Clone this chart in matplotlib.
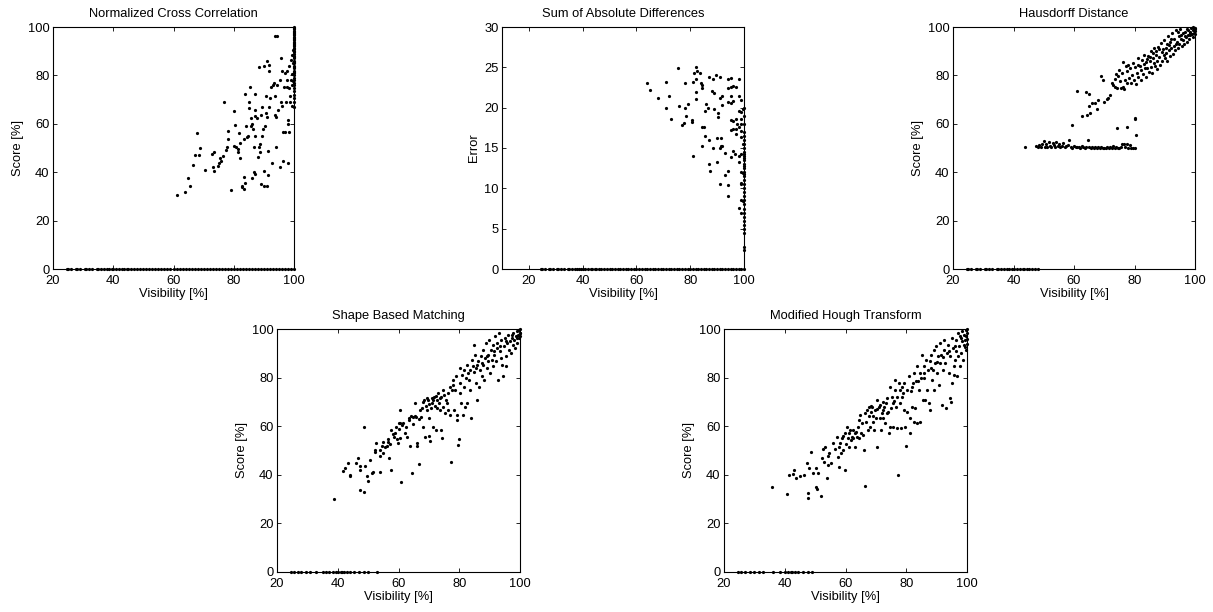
import matplotlib
matplotlib.use("Agg")
import matplotlib.pyplot as plt

plt.rcParams['font.family'] = ['Liberation Sans', 'DejaVu Sans']

# ---------------- data (visibility [%], score/error) ----------------
titles = ["Normalized Cross Correlation", "Sum of Absolute Differences",
          "Hausdorff Distance", "Shape Based Matching", "Modified Hough Transform"]
ylabels = ["Score [%]", "Error", "Score [%]", "Score [%]", "Score [%]"]
xlabel = "Visibility [%]"

zero_vis_all = [24.5, 25, 26, 27.5, 28, 29, 30.5, 31, 32, 33, 34.5, 35, 36, 37, 38, 38.5,
                39.5, 40, 41, 42, 43, 43.5, 44.5, 45, 46, 47, 48, 49, 50, 51, 52, 53,
                54, 55, 56, 57, 58, 59, 60, 61, 62, 63, 64, 65, 66, 67, 68, 69, 70, 71,
                72, 73, 74, 75, 76, 77, 78, 79, 80, 81, 82, 83, 84, 85, 86, 87, 88, 89,
                90, 91, 92, 93, 94, 95, 96, 97, 98, 99, 100]
zero_vis_hd = [24.5, 25, 26, 27.5, 28, 29, 30.5, 31, 32, 33, 34.5, 35, 36, 37, 38, 38.5,
               39.5, 40, 41, 42, 43, 43.5, 44.5, 45, 46, 47, 48]
zero_vis_sbm = [24.5, 25.5, 27, 28, 29.5, 31, 33, 35, 36, 37, 38.5, 39.5, 40, 41, 41.5,
                42, 43, 44, 45.5, 47, 48.5, 50, 53]
zero_vis_mht = [24.5, 25.5, 27, 28.5, 30, 31.5, 33, 36, 38.5, 40, 41, 42, 42.5, 43.5,
                44.5, 46, 47.5, 49]

ncc_points = [(61.3, 30.6), (63.9, 31.7), (64.8, 37.5), (65.6, 34.1), (66.4, 42.9),
              (67.0, 47.3), (67.9, 56.1), (68.6, 47.0), (68.7, 49.9), (70.6, 41.1),
              (72.8, 47.7), (73.3, 48.3), (73.0, 42.1), (73.6, 40.7), (74.7, 42.6),
              (75.0, 44.0), (75.3, 45.8), (75.8, 44.6), (76.4, 46.9), (76.7, 69.0),
              (77.3, 49.2), (77.8, 50.6), (78.1, 53.9), (78.0, 57.0), (79.1, 32.7),
              (80.0, 51.0), (80.2, 65.1), (80.3, 59.6), (80.7, 50.3), (81.3, 49.4),
              (81.3, 48.3), (81.6, 56.1), (82.2, 45.8), (82.2, 52.0), (82.6, 34.5),
              (82.9, 33.7), (83.3, 33.2), (83.3, 53.9), (83.3, 37.9), (83.8, 35.6),
              (84.0, 59.2), (83.9, 72.3), (84.4, 54.5), (84.7, 54.8), (85.0, 69.0),
              (85.2, 66.6), (85.3, 75.2), (85.6, 58.9), (85.8, 62.6), (86.1, 59.9),
              (86.3, 57.8), (86.2, 37.5), (86.7, 40.0), (86.7, 50.6), (86.9, 72.3),
              (87.0, 54.8), (87.2, 63.4), (87.2, 39.3), (87.2, 65.8), (87.7, 62.2),
              (88.1, 46.2), (88.3, 50.6), (88.6, 48.4), (88.3, 83.3), (88.8, 51.7),
              (89.0, 35.3), (89.2, 63.7), (89.4, 66.9), (89.4, 55.0), (89.7, 57.8),
              (89.9, 34.1), (90.0, 84.0), (90.2, 40.3), (90.3, 58.9), (90.6, 71.4),
              (90.7, 64.4), (90.9, 86.1), (91.1, 63.0), (91.1, 34.1), (91.3, 48.6),
              (91.4, 38.9), (91.7, 84.1), (91.7, 81.7), (91.8, 66.9), (92.0, 70.6),
              (92.2, 75.4), (92.8, 44.0), (93.1, 76.1), (93.3, 76.8), (93.6, 71.4),
              (93.7, 63.7), (93.9, 50.3), (94.0, 63.0), (93.7, 96.4), (94.2, 96.4),
              (94.4, 76.1), (94.8, 65.8), (95.3, 42.3), (95.3, 78.2), (95.6, 69.2),
              (95.8, 87.0), (95.9, 81.7), (96.1, 67.2), (96.3, 44.6), (96.4, 56.8),
              (96.7, 75.4), (96.9, 81.0), (97.0, 56.8), (97.2, 69.1), (97.6, 78.2),
              (97.7, 75.2), (97.8, 81.7), (97.9, 43.7), (98.0, 61.4), (98.0, 60.0),
              (98.2, 74.8), (98.3, 56.7), (98.4, 83.7), (98.7, 71.4), (98.8, 69.2),
              (98.9, 86.5), (99.1, 78.2), (99.2, 76.1), (99.3, 67.4), (99.4, 88.6),
              (99.5, 80.5), (99.6, 85.0), (99.7, 90.5), (99.6, 77.5)]
ncc_full_vis = [67, 69, 70.5, 72, 73.5, 75, 76, 77, 78, 79, 80, 81, 82, 83, 84, 85, 86,
                87, 88, 89, 90, 91, 92, 93, 94, 95, 96, 97, 98, 99, 100, 99.5, 98.5,
                97.5, 96.5, 95.5, 94.5, 93.5, 92.5, 91.5, 89.5, 87.5, 85.5, 83.5, 81.5]

sad_points = [(64, 23), (65, 22.2), (68, 21.2), (71, 23.2), (72, 21.4), (71, 20),
              (73, 18.6), (75.5, 24.9), (76, 20.2), (77, 17.8), (78, 23), (78, 20),
              (77.5, 18.1), (78.5, 19), (79, 20.5), (80.5, 18.5), (80.7, 18.2),
              (81, 23.2), (81, 14), (81.5, 24.3), (82, 25), (82, 23.5), (82.3, 22),
              (82, 21.1), (82.5, 24.6), (83.5, 24.3), (84, 23), (84.2, 22.8),
              (84.5, 22.4), (84.5, 17.6), (84.5, 15.2), (85, 17.6), (85.5, 16.5),
              (85.5, 19.6), (86, 20.4), (86.5, 20), (87, 23.8), (87, 16), (87, 13),
              (87.5, 12.2), (88, 22.1), (88.5, 23.6), (88.5, 15), (89, 19.8),
              (89, 21.8), (89.5, 24.1), (90, 13.3), (90, 16.3), (90.5, 19.3),
              (90.5, 18.8), (91, 21.2), (91, 23.8), (91, 15), (91, 10.5), (91.5, 15.2),
              (91.5, 16.2), (92, 20.3), (92, 21.5), (92, 15.3), (93, 11.6), (93, 14.4),
              (94, 23.5), (94, 22.5), (94, 20.7), (94, 12.1), (94, 10.4), (94, 9.1),
              (95, 23.7), (95, 22.6), (95, 21.5), (95, 20.6), (95, 18.5), (95, 17.2),
              (95, 13.9), (96, 22.7), (96, 20.8), (96, 18.4), (96, 17.3), (96, 14.6),
              (96.5, 14.3), (97, 22.6), (97, 18.6), (97, 17.4), (97, 16.7), (97.5, 18),
              (98, 23.6), (98, 21.4), (98, 19.6), (98, 17.6), (98, 14), (98, 13.3),
              (98, 7.6), (99, 21), (99, 18.6), (99, 18), (99, 17.1), (99, 16.4),
              (99, 19.5), (99, 14.2), (99, 12), (99, 10.5), (99, 8.5), (99, 6.9),
              (99, 10.6), (99.5, 19.8), (99.5, 15.5), (99.5, 11.9), (99.5, 8.4)]
sad_full_err = [2.4, 2.7, 4.5, 5, 5.5, 6, 6.5, 7, 7.5, 8, 8.5, 9, 9.5, 10, 10.5, 11,
                11.5, 12, 12.5, 13, 13.5, 14, 14.5, 15, 15.5, 16, 16.5, 17, 18, 19, 20,
                11.8, 12.8, 13.8, 14.3]

hd_points = [(43.7, 50.3), (47.5, 50.8), (48, 50.5), (48.5, 51.2), (49, 50.3), (49.5, 51.5),
             (50, 53), (50.3, 50.6), (50.8, 51.8), (51.2, 50.4), (51.6, 52.3), (52, 51),
             (52.5, 50.5), (53, 52), (53.3, 51.3), (53.8, 50.4), (54.2, 52.6), (54.6, 50.8),
             (55, 51.5), (55.5, 50.3), (56, 50.9), (56.5, 52), (57, 50.4), (57.5, 50.7),
             (58, 51.3), (58.5, 53.5), (59, 50.5), (59.5, 50.2), (60, 51), (60.5, 50.4),
             (61, 50.6), (61.5, 50.3), (62, 50.2), (62.5, 50.8), (63, 50.4), (63.5, 50.2),
             (64, 50.5), (64.6, 53.2), (65, 50.3), (65.5, 50.1), (66, 50.4), (66.5, 50.2),
             (67, 50.3), (67.5, 50.1), (68, 50.4), (68.5, 50.2), (69, 50.3), (69.5, 50.1),
             (70, 50.2), (70.5, 50), (71, 50.3), (71.5, 50.1), (72, 50.4), (72.5, 50.2),
             (73, 50.8), (73.5, 50.1), (74, 50.3), (74.5, 50.2), (75, 50), (75.5, 50.3),
             (76, 51.8), (76.5, 51.5), (77, 50.4), (77.5, 51.7), (78, 50.2), (78.5, 51.3),
             (79, 50.1), (79.5, 49.9), (80, 50),
             (59.5, 59.6), (74.3, 58.2), (77.4, 58.6), (80.2, 62.4), (80.0, 62.0), (80.5, 55.4),
             (60.9, 73.4), (63.9, 73.0), (65.1, 72.4), (62.8, 63.3), (64.2, 63.7), (65.0, 67.4),
             (65.3, 64.4), (66.1, 68.6), (67.5, 66.1), (67.0, 68.6), (68.0, 70.0), (68.8, 79.9),
             (69.5, 78.2), (70.0, 69.2), (70.8, 70.3), (71.4, 70.6), (71.9, 72.0), (72.5, 76.8),
             (73.0, 76.1), (73.4, 78.6), (73.6, 75.2), (73.9, 80.7), (74.3, 74.8), (74.7, 79.6),
             (75.0, 82.3), (75.2, 77.7), (75.5, 74.8), (75.8, 81.0), (76.1, 85.5), (76.3, 75.4),
             (76.5, 74.3), (76.9, 78.2), (77.2, 83.7), (77.4, 76.8), (77.6, 81.7), (78.0, 84.4),
             (78.3, 78.9),
             (78.6, 82.9), (78.9, 76.8), (79.1, 80.2), (79.6, 85.1), (79.9, 78.0), (80.3, 83.4),
             (80.5, 76.4), (80.8, 81.1), (81.2, 87.0), (81.3, 79.5), (81.8, 84.0), (82.0, 77.9),
             (82.3, 82.2), (82.6, 86.5), (82.9, 80.7), (83.1, 88.6), (83.4, 82.9), (83.7, 79.2),
             (83.9, 85.7), (84.2, 83.1), (84.4, 88.2), (84.7, 81.4), (85.0, 86.0), (85.3, 90.1),
             (85.5, 83.6), (85.8, 80.9), (86.1, 87.3), (86.4, 85.0), (86.6, 91.4), (86.9, 83.8),
             (87.1, 88.5), (87.4, 86.1), (87.6, 82.7), (87.9, 91.9), (88.2, 87.4), (88.4, 84.3),
             (88.7, 93.3), (89.0, 89.5), (89.2, 86.0), (89.5, 91.0), (89.8, 94.8), (90.1, 87.1),
             (90.3, 89.3), (90.6, 93.0), (90.9, 85.8), (91.1, 96.4), (91.4, 90.6), (91.7, 88.2),
             (91.9, 93.7), (92.2, 91.5), (92.5, 97.4), (92.7, 89.0), (93.0, 95.2), (93.2, 92.1),
             (93.5, 90.4), (93.8, 98.6), (94.0, 94.0), (94.3, 91.2), (94.6, 96.3), (94.8, 93.0),
             (95.1, 99.0), (95.3, 95.1), (95.6, 92.3), (95.9, 97.5), (96.1, 94.6), (96.4, 92.8),
             (96.7, 98.1), (96.9, 95.7), (97.2, 94.0), (97.4, 99.3), (97.7, 96.6), (98.0, 94.9),
             (98.2, 98.0), (98.5, 96.5), (98.7, 99.5), (99.0, 97.2), (99.2, 95.8), (99.5, 98.7),
             (99.7, 97.6), (99.9, 99.6), (100, 98.4), (100, 99.3), (100, 97.0), (84.0, 86.9),
             (86.0, 89.1), (88.0, 90.8), (90.5, 91.2), (92.0, 94.9), (94.4, 97.8), (96.6, 96.1),
             (98.4, 97.6), (81.0, 84.3), (83.2, 84.8), (85.2, 87.8), (87.2, 89.9), (89.6, 88.4),
             (91.5, 92.5), (93.6, 93.1), (95.5, 96.8), (97.8, 98.9), (99.4, 99.9)]

sbm_points = [(38.8, 30), (41.6, 41.4), (42.5, 42.6), (43.3, 45), (43.9, 39.5), (44.1, 39.8),
              (46.1, 44.7), (46.8, 47), (47.4, 33.7), (47.4, 43.6), (47.4, 42), (48.5, 59.8),
              (48.7, 33), (49.1, 43.6), (49.6, 39.5), (50.1, 37.4), (50.5, 46.1), (51.3, 40.6),
              (51.6, 41), (52.1, 49.5), (52.3, 50.2), (52.7, 53), (53.8, 50.2), (54, 47.7),
              (54, 41), (54.5, 51.9), (55, 53.6), (55, 48.8), (55.6, 51.6), (56.2, 51.9),
              (56.4, 53.6), (56.7, 54.6), (57, 46.8), (57.3, 52.7), (57.5, 42), (57.6, 58.5),
              (58.1, 56.8), (58.4, 55.4), (58.9, 57.1), (59.2, 59.8), (59.5, 54.6), (59.7, 53),
              (60, 61.2), (60.3, 58.7), (60.5, 55), (60.5, 61.2), (60.5, 66.7), (60.8, 37.1),
              (61.1, 60.5), (61.6, 61.5), (62.2, 57.1), (62.4, 59.8), (62.7, 55.7), (63.3, 62.6),
              (63.6, 63.3), (63.8, 51.9), (64, 64.2), (64.4, 40.9), (64.7, 63.6), (64.9, 60.9),
              (65.3, 64.2), (65.5, 69.5), (65.8, 63.9), (66, 53), (66.2, 51.9), (66.6, 44.4),
              (66.9, 62.9), (67.1, 66.7), (67.4, 63.9), (67.7, 67.4), (68, 70.1), (68.2, 59.8),
              (68.4, 70.8), (68.8, 55.7), (69, 68.2), (69.3, 66.7), (69.6, 70.8), (69.9, 63.3),
              (70.2, 55.9), (70.4, 53.9), (70.6, 67.4), (70.9, 69.5), (71.2, 59.8), (71.5, 70.8),
              (71.7, 72.2), (72.1, 68.2), (72.4, 58.5), (72.6, 67.4), (72.8, 70.8), (73.2, 69.5),
              (73.5, 71.5), (73.7, 66.7), (73.9, 58.5), (74.2, 55), (74.6, 68.1), (74.8, 75),
              (75, 72.9), (75.3, 65.3), (75.7, 70.8), (75.9, 69.5), (76.2, 66.7), (76.4, 73.7),
              (76.8, 76.3), (77, 64.6), (77.2, 45.4), (77.5, 75), (77.8, 79.1), (78.1, 77.1),
              (78.3, 66.7), (78.6, 75), (78.9, 80.5), (79.2, 64.6), (79.4, 62.6), (79.6, 52.3),
              (79.8, 54.7), (80.1, 73.6), (80.3, 84), (80.3, 77.8), (80.6, 69.5), (80.8, 81.2),
              (81.2, 64.6), (81.4, 76.3), (81.6, 83.2), (81.9, 68.1), (82.2, 79.8), (82.5, 85.3),
              (82.7, 69.5), (83, 81.9), (83.3, 79.1), (83.6, 75), (83.8, 63.3), (84.1, 87.4),
              (84.4, 84.6), (84.7, 93.5), (84.9, 82.2), (85.2, 89.4), (85.5, 77.7), (85.8, 70.8),
              (86, 85.3), (86.3, 86.7), (86.6, 76.3), (86.8, 83.2), (87.1, 88.7), (87.4, 80.5),
              (87.7, 91.5), (87.9, 85.3), (88.2, 79.1), (88.5, 88), (88.8, 94.2), (89, 83.9),
              (89.3, 88.7), (89.6, 86.7), (89.9, 95.5), (90.1, 81.9), (90.4, 91.5), (90.7, 87.4),
              (91, 93.5), (91.2, 84.6), (91.5, 89.4), (91.8, 97), (92.1, 86.7), (92.3, 92.2),
              (92.5, 94.2), (92.9, 79.1), (93.2, 98.3), (93.4, 90.8), (93.6, 88), (93.9, 95.5),
              (94.2, 85.3), (94.4, 80.7), (94.7, 92.8), (95, 96.3), (95.3, 88.7), (95.5, 84.6),
              (95.8, 94.2), (96.2, 97.7), (96.5, 91.5), (96.7, 94.9), (96.9, 90.1), (97.3, 96.3),
              (97.6, 93.5), (97.8, 98.3), (98, 95.5), (98.4, 92.2), (98.7, 97), (98.9, 94.2),
              (99.1, 99), (99.5, 97.7), (99.6, 96.3), (99.8, 99.7), (99.9, 98.3), (100, 100),
              (72.5, 72.5), (73, 73.5), (71, 71.5), (74, 72), (70, 69), (69.5, 71.5),
              (83.5, 83), (85.5, 84), (87.5, 86), (89.5, 89.5), (91.5, 91), (93.5, 93),
              (95.5, 95), (97.5, 97.5), (99, 96.5), (100, 98.5), (100, 97), (99.5, 99.5)]

mht_points = [(35.8, 35.1), (40.7, 32), (41.5, 39.8), (42.6, 40.3), (42.9, 42), (43.7, 38.5),
              (45.1, 39.5), (46.2, 39.9), (47.3, 45), (47.6, 32.6), (47.6, 30.3), (48, 43),
              (48.7, 49.2), (49.2, 40.6), (50.3, 42.6), (50.3, 35.1), (50.5, 34), (51.1, 40.9),
              (52, 31.4), (52.2, 46.8), (52.7, 50.5), (52.9, 45.4), (53.3, 51.6), (53.8, 38.8),
              (54.2, 44), (54.4, 47.9), (54.7, 49.1), (55.2, 44.7), (56, 53), (56.6, 50.5),
              (57.1, 55.4), (57.4, 47.2), (57.7, 43.3), (57.9, 51.6), (58.2, 53), (58.6, 48.8),
              (58.8, 55), (59.1, 56), (59.3, 50.2), (59.7, 42), (59.9, 57.1), (60.2, 52.7),
              (60.4, 59.8), (60.8, 55), (61, 57.1), (61.3, 51.6), (61.5, 58.5), (61.9, 54.5),
              (62.1, 55.7), (62.4, 58.5), (62.6, 55), (63, 57.1), (63.2, 51.6), (63.5, 57.8),
              (63.7, 55.7), (64, 59.8), (64.3, 55), (64.6, 62.6), (64.8, 64.6), (65.2, 57.1),
              (65.4, 61.2), (65.7, 56.4), (66.2, 50.2), (66.4, 35.5), (66.5, 65.3), (66.8, 61.9),
              (67, 66.7), (67.4, 58.5), (67.6, 68.1), (67.9, 64), (68.1, 59.8), (68.4, 66),
              (68.7, 68.1), (69, 61.9), (69.2, 64), (69.5, 58.5), (69.8, 66.7), (70.1, 63.3),
              (70.3, 70.8), (70.5, 51.6), (70.9, 68.1), (71.2, 63.3), (71.4, 68.8), (71.6, 58.5),
              (72, 65.3), (72.3, 70.1), (72.5, 63.3), (72.7, 68.1), (73.1, 61.2), (73.4, 69.5),
              (73.6, 65.3), (73.8, 71.5), (74.2, 57.1), (74.5, 76.1), (74.7, 59.8), (75, 67.4),
              (75.3, 72.2), (75.6, 69.5), (75.8, 59.8), (76.2, 75), (76.4, 79.1), (76.7, 68.1),
              (76.9, 72.2), (77.1, 59.1), (77.4, 39.8), (77.5, 77.7), (77.8, 75), (78, 69.5),
              (78.2, 59.1), (78.6, 76.3), (78.9, 73.6), (79.1, 66.7), (79.3, 77.7), (79.7, 59.8),
              (80, 52), (80.2, 75), (80.4, 66), (80.8, 80.5), (81.1, 57.1), (81.3, 63.3),
              (81.5, 74.3), (81.9, 68.1), (82.2, 77.7), (82.4, 61.9), (82.6, 81.9), (83, 67.4),
              (83.3, 78.4), (83.5, 61.2), (83.7, 84.6), (84.1, 75), (84.4, 61.9), (84.6, 81.9),
              (84.8, 79.8), (85.2, 89.4), (85.5, 70.8), (85.7, 84.6), (85.9, 81.9), (86.3, 70.8),
              (86.6, 87.4), (86.8, 75), (87, 83.2), (87.4, 69.5), (87.7, 86.7), (87.9, 66.7),
              (88.1, 89.4), (88.5, 79.1), (88.8, 83.2), (89, 91.5), (89.2, 75), (89.6, 86),
              (89.9, 92.8), (90.1, 81.9), (90.3, 88.7), (90.7, 77), (91, 94.2), (91.2, 86),
              (91.4, 89.4), (91.8, 68.8), (92.1, 83.2), (92.3, 91.5), (92.5, 95.6), (92.9, 86),
              (93.2, 67.4), (93.4, 90.1), (93.6, 93.5), (94, 81.9), (94.3, 71.5), (94.5, 88.7),
              (94.7, 70.1), (95, 77.7), (95.1, 96.3), (95.4, 92.2), (95.6, 84.6), (95.8, 81.2),
              (96.1, 87.4), (96.3, 95.6), (96.5, 90.8), (96.7, 80.5), (96.9, 98.3), (97.1, 88.7),
              (97.4, 92.8), (97.6, 97), (97.8, 84.6), (98, 90.1), (98.2, 94.9), (98.4, 99),
              (98.7, 87.4), (98.9, 93.5), (99.1, 97.7), (99.3, 95.6), (99.6, 99.7), (99.7, 97),
              (99.8, 91.5), (99.9, 98.3), (100, 100), (100, 96), (100, 94), (99.5, 92.5),
              (68.5, 68.5), (70.5, 67), (72.5, 66.5), (74, 66), (76, 70.5), (78.5, 72),
              (82, 76), (84, 78.5), (86, 80), (88, 84), (90, 86.5), (92, 88.5), (94, 91),
              (96, 93), (98, 96.5)]

panels = [
    (ncc_points + [(v, 0) for v in zero_vis_all] + [(100, s) for s in ncc_full_vis]),
    (sad_points + [(v, 0) for v in zero_vis_all] + [(100, e) for e in sad_full_err]),
    (hd_points + [(v, 0) for v in zero_vis_hd]),
    (sbm_points + [(v, 0) for v in zero_vis_sbm]),
    (mht_points + [(v, 0) for v in zero_vis_mht]),
]

# ---------------- layout ----------------
W, H = 1213, 612
rects_px = [(53, 27, 294, 269), (502, 27, 744, 269), (953, 27, 1195, 269),
            (277, 329, 520, 572), (724, 329, 967, 572)]
xlims = [(20, 100), (10, 100), (20, 100), (20, 100), (20, 100)]
ylims = [(0, 100), (0, 30), (0, 100), (0, 100), (0, 100)]
yticks = [range(0, 101, 20), range(0, 31, 5), range(0, 101, 20),
          range(0, 101, 20), range(0, 101, 20)]
FS = 9.3

fig = plt.figure(figsize=(W / 100, H / 100), dpi=100)
for i, (l, t, r, b) in enumerate(rects_px):
    ax = fig.add_axes([l / W, 1 - b / H, (r - l) / W, (b - t) / H])
    pts = panels[i]
    xs = [p[0] for p in pts]
    ys = [p[1] for p in pts]
    ax.plot(xs, ys, 'o', color='k', ms=2.3, mew=0, clip_on=False, zorder=3)
    ax.set_xlim(*xlims[i])
    ax.set_ylim(*ylims[i])
    ax.set_xticks(range(20, 101, 20))
    ax.set_yticks(list(yticks[i]))
    ax.tick_params(direction='in', top=True, right=True, length=3, width=0.6,
                   labelsize=FS, colors='k')
    ax.tick_params(axis='x', pad=4.5)
    ax.tick_params(axis='y', pad=2.5)
    for s in ax.spines.values():
        s.set_linewidth(0.8)
        s.set_color('k')
    ax.set_title(titles[i], fontsize=FS, pad=7.3)
    ax.set_xlabel(xlabel, fontsize=FS, labelpad=0.5)
    ax.set_ylabel(ylabels[i], fontsize=FS, labelpad=3)

fig.savefig("out.png", dpi=100)
